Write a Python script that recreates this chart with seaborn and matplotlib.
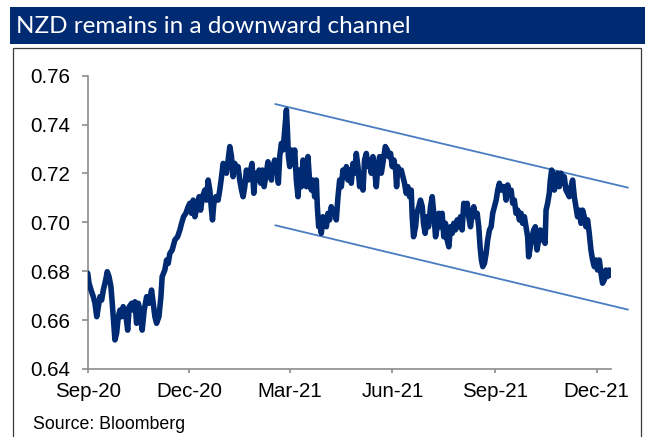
import matplotlib
matplotlib.use("Agg")
import matplotlib.pyplot as plt
import matplotlib.dates as mdates
from matplotlib.patches import Rectangle
from matplotlib.ticker import FormatStrFormatter
import pandas as pd
import seaborn as sns

# NZD/USD path, days counted from the start date
start_date = "2020-09-01"
obs_day = [
    0.0, 1.2, 3.0, 5.0, 6.5, 8.1, 9.5, 11.0, 12.5, 14.0,
    16.1, 17.5, 19.1, 20.8, 22.0, 23.8, 24.4, 25.9, 27.4, 28.9,
    30.4, 31.8, 34.0, 35.8, 37.2, 39.4, 40.8, 42.3, 43.8, 45.3,
    46.8, 48.8, 50.6, 52.8, 54.8, 57.2, 58.7, 60.2, 61.7, 63.8,
    65.6, 66.7, 69.1, 70.7, 72.1, 73.6, 75.7, 78.1, 80.5, 82.6,
    84.1, 85.9, 87.9, 90.0,
    91.5, 93.0, 94.5, 96.0, 98.0, 99.8, 101.1, 102.9, 104.9, 106.4,
    107.9, 109.4, 110.9, 111.8, 113.0, 114.8, 116.8, 118.3, 119.9, 121.3,
    122.8, 124.3, 125.8, 127.3, 128.8, 130.2, 131.8, 133.3, 134.7, 136.2,
    137.8, 139.2, 140.7, 142.2, 143.7, 145.2, 147.2, 148.8, 150.3, 152.1,
    153.5, 155.0, 156.5, 158.0, 159.5, 161.5, 163.1, 164.6, 166.0, 167.5,
    169.6, 170.8, 172.0, 173.5, 175.0, 176.5, 178.0, 178.9, 179.8, 181.0,
    182.5, 183.9,
    185.4, 186.9, 188.4, 189.9, 191.4, 192.9, 194.4, 195.9, 197.3, 198.9,
    200.4, 201.8, 203.3, 204.8, 205.7, 206.9, 207.8, 209.3, 210.7, 212.3,
    213.8, 215.2, 216.7, 218.2, 219.7, 221.2, 222.7, 224.2, 225.7, 227.2,
    228.6, 230.2, 231.7, 233.1, 234.6, 236.1, 237.6, 239.1, 240.6, 242.1,
    243.6, 245.1, 246.6, 248.0, 249.6, 251.0, 252.5, 254.0, 255.5, 257.0,
    258.5, 259.9, 261.5, 263.0, 264.4, 266.6, 268.4, 269.8, 271.3, 272.8,
    274.3, 275.8, 276.7, 277.8, 279.4,
    280.9, 282.3, 283.8, 285.3, 286.8, 288.3, 289.8, 290.7, 291.9, 293.7,
    294.8, 296.6, 298.1, 299.7, 300.8, 302.3, 303.8, 305.3, 307.1, 308.6,
    310.0, 311.6, 313.1, 314.5, 316.0, 317.5, 319.0, 320.5, 322.0, 323.5,
    325.0, 326.5, 327.9, 329.4, 331.0, 332.4, 333.9, 335.4, 336.9, 338.4,
    339.9, 341.3, 342.9, 344.4, 345.8, 347.3, 348.9, 350.3, 351.5, 352.7,
    353.9, 355.4, 356.9, 358.3, 359.9, 361.4, 362.8, 364.3, 365.9, 367.3,
    368.8, 370.3, 371.8,
    373.3, 374.8, 376.2, 377.7, 379.3, 380.7, 382.2, 383.7, 385.2, 386.7,
    388.2, 389.6, 391.2, 392.7, 394.1, 395.0, 396.5, 398.1, 399.5, 401.0,
    402.5, 404.0, 405.5, 407.0, 408.4, 409.7, 410.6, 412.0, 413.5, 414.4,
    415.6, 417.1, 418.0, 419.5, 420.9, 422.5, 424.0, 425.4, 426.9, 428.4,
    429.9, 431.4, 432.9, 434.4, 435.9, 437.4, 438.8, 440.4, 441.9, 443.3,
    444.8, 446.3, 447.8, 449.3, 450.8, 452.3, 453.8, 455.3, 456.7, 458.3,
    459.8, 461.2, 462.7, 464.2, 465.6, 467.2, 468.1,
]
nzd_usd = [
    0.6792, 0.6751, 0.6723, 0.6696, 0.6669, 0.6614, 0.6655, 0.6696, 0.6682, 0.6723,
    0.6764, 0.6798, 0.6778, 0.6737, 0.6669, 0.6559, 0.6519, 0.6546, 0.6614, 0.6641,
    0.6614, 0.6655, 0.6628, 0.6559, 0.6655, 0.6669, 0.6641, 0.6675, 0.6587, 0.6669,
    0.6641, 0.6559, 0.6641, 0.6696, 0.6669, 0.6723, 0.6669, 0.6614, 0.6587, 0.6614,
    0.6696, 0.6778, 0.6805, 0.6846, 0.6832, 0.6873, 0.6887, 0.6928, 0.6941, 0.6969,
    0.6996, 0.7023, 0.7037, 0.7064,
    0.7078, 0.7037, 0.7091, 0.7023, 0.7064, 0.7105, 0.7050, 0.7105, 0.7132, 0.7091,
    0.7173, 0.7132, 0.7050, 0.7010, 0.7078, 0.7105, 0.7091, 0.7132, 0.7187, 0.7241,
    0.7228, 0.7201, 0.7255, 0.7310, 0.7269, 0.7187, 0.7241, 0.7214, 0.7228, 0.7173,
    0.7132, 0.7105, 0.7146, 0.7214, 0.7173, 0.7201, 0.7241, 0.7119, 0.7201, 0.7173,
    0.7214, 0.7160, 0.7214, 0.7146, 0.7187, 0.7248, 0.7201, 0.7173, 0.7228, 0.7255,
    0.7228, 0.7160, 0.7269, 0.7323, 0.7296, 0.7378, 0.7460, 0.7378, 0.7269, 0.7228,
    0.7296, 0.7241,
    0.7296, 0.7173, 0.7105, 0.7214, 0.7146, 0.7255, 0.7201, 0.7146, 0.7269, 0.7160,
    0.7132, 0.7173, 0.7105, 0.7173, 0.7064, 0.6982, 0.7010, 0.6955, 0.7023, 0.7010,
    0.6982, 0.7037, 0.7010, 0.7064, 0.7037, 0.7050, 0.7010, 0.7105, 0.7173, 0.7146,
    0.7214, 0.7187, 0.7228, 0.7173, 0.7214, 0.7160, 0.7241, 0.7201, 0.7282, 0.7228,
    0.7146, 0.7187, 0.7132, 0.7255, 0.7282, 0.7228, 0.7255, 0.7201, 0.7269, 0.7214,
    0.7146, 0.7228, 0.7269, 0.7201, 0.7241, 0.7310, 0.7296, 0.7269, 0.7282, 0.7228,
    0.7255, 0.7214, 0.7146, 0.7228, 0.7201,
    0.7214, 0.7187, 0.7160, 0.7119, 0.7146, 0.7105, 0.7132, 0.7023, 0.6941, 0.6982,
    0.7037, 0.7064, 0.7091, 0.7064, 0.6996, 0.6955, 0.7023, 0.6982, 0.7064, 0.7105,
    0.7037, 0.6941, 0.6982, 0.7037, 0.6982, 0.7037, 0.6941, 0.6996, 0.6928, 0.6900,
    0.6982, 0.6955, 0.6996, 0.6969, 0.7010, 0.6982, 0.7023, 0.6969, 0.7078, 0.7050,
    0.7078, 0.7023, 0.6982, 0.7037, 0.7064, 0.7023, 0.7037, 0.6982, 0.6900, 0.6846,
    0.6819, 0.6832, 0.6873, 0.6928, 0.6969, 0.6982, 0.7037, 0.7064, 0.7091, 0.7132,
    0.7160, 0.7132, 0.7146,
    0.7146, 0.7091, 0.7153, 0.7119, 0.7132, 0.7078, 0.7091, 0.7037, 0.7050, 0.7010,
    0.7037, 0.6996, 0.7023, 0.6982, 0.6941, 0.6859, 0.6900, 0.6941, 0.6969, 0.6982,
    0.6887, 0.6928, 0.6969, 0.6928, 0.6955, 0.6914, 0.7050, 0.7078, 0.7119, 0.7173,
    0.7214, 0.7187, 0.7132, 0.7160, 0.7201, 0.7146, 0.7201, 0.7160, 0.7187, 0.7132,
    0.7119, 0.7105, 0.7146, 0.7173, 0.7105, 0.7064, 0.7023, 0.7050, 0.6996, 0.7050,
    0.7023, 0.6982, 0.7010, 0.6955, 0.6887, 0.6846, 0.6819, 0.6846, 0.6805, 0.6846,
    0.6792, 0.6751, 0.6764, 0.6805, 0.6778, 0.6805, 0.6784,
]

# Downward channel: trend lines through the highs and the lows
channel_day = [168.0, 484.0]
channel_upper = [0.7484, 0.7142]
channel_lower = [0.6988, 0.6643]

y_ticks = [0.64, 0.66, 0.68, 0.70, 0.72, 0.74, 0.76]
axis_end_day = 468.5
title_text = "NZD remains in a downward channel"
source_text = "Source: Bloomberg"

NAVY = "#002B73"
CHANNEL_BLUE = "#4A7CC0"
AXIS_GREY = "#8C8C8C"

sns.set_style("white")
plt.rcParams["font.family"] = ["Liberation Sans", "DejaVu Sans"]

t0 = pd.Timestamp(start_date)
assert len(obs_day) == len(nzd_usd)
df = pd.DataFrame({
    "date": t0 + pd.to_timedelta(obs_day, unit="D"),
    "rate": nzd_usd,
})
channel_dates = t0 + pd.to_timedelta(channel_day, unit="D")

W, H = 645, 437
fig = plt.figure(figsize=(W / 100, H / 100), dpi=100)


def fx(px):
    return px / W


def fy(py):
    return 1 - py / H


# Header bar and frame
fig.patches.append(Rectangle((fx(10), fy(44.3)), fx(645) - fx(10), fy(6.7) - fy(44.3),
                             transform=fig.transFigure, facecolor=NAVY,
                             edgecolor="none", zorder=0))
fig.patches.append(Rectangle((fx(13.3), -0.05), fx(641) - fx(13.3), fy(47.7) + 0.05,
                             transform=fig.transFigure, facecolor="none",
                             edgecolor="#3A3A3A", linewidth=0.9, zorder=0))
fig.text(fx(15.7), fy(32.8), title_text, color="white", fontsize=17.5,
         family=["Lato", "DejaVu Sans"], va="baseline", ha="left")
fig.text(fx(33), fy(429.3), source_text, color="black", fontsize=12.8,
         va="baseline", ha="left")

ax = fig.add_axes([fx(87.7), fy(369), fx(610.7) - fx(87.7), fy(75.7) - fy(369)])
ax.set_facecolor("none")

sns.lineplot(data=df, x="date", y="rate", ax=ax, color=NAVY, linewidth=4.0,
             estimator=None, sort=False, solid_joinstyle="round",
             solid_capstyle="round", zorder=3)

sns.lineplot(x=channel_dates, y=channel_upper, ax=ax, color=CHANNEL_BLUE,
             linewidth=1.3, clip_on=False, zorder=2)
sns.lineplot(x=channel_dates, y=channel_lower, ax=ax, color=CHANNEL_BLUE,
             linewidth=1.3, clip_on=False, zorder=2)

ax.set_xlim(t0, t0 + pd.Timedelta(days=axis_end_day))
ax.set_ylim(y_ticks[0], y_ticks[-1])
ax.set_yticks(y_ticks)
ax.yaxis.set_major_formatter(FormatStrFormatter("%.2f"))
ax.xaxis.set_major_locator(mdates.MonthLocator(bymonth=[3, 6, 9, 12], bymonthday=1))
ax.xaxis.set_major_formatter(mdates.DateFormatter("%b-%y"))
ax.set_xlabel("")
ax.set_ylabel("")

for side in ("top", "right"):
    ax.spines[side].set_visible(False)
for side in ("left", "bottom"):
    ax.spines[side].set_color(AXIS_GREY)
    ax.spines[side].set_linewidth(1.2)

ax.tick_params(axis="y", direction="out", length=4.3, width=1.2, color=AXIS_GREY,
               pad=8.5, labelsize=14.8, labelcolor="black", left=True)
ax.tick_params(axis="x", direction="out", length=3.0, width=1.2, color=AXIS_GREY,
               pad=6.5, labelsize=14.8, labelcolor="black", bottom=True)
ax.grid(False)

fig.savefig("out.png", dpi=100)
